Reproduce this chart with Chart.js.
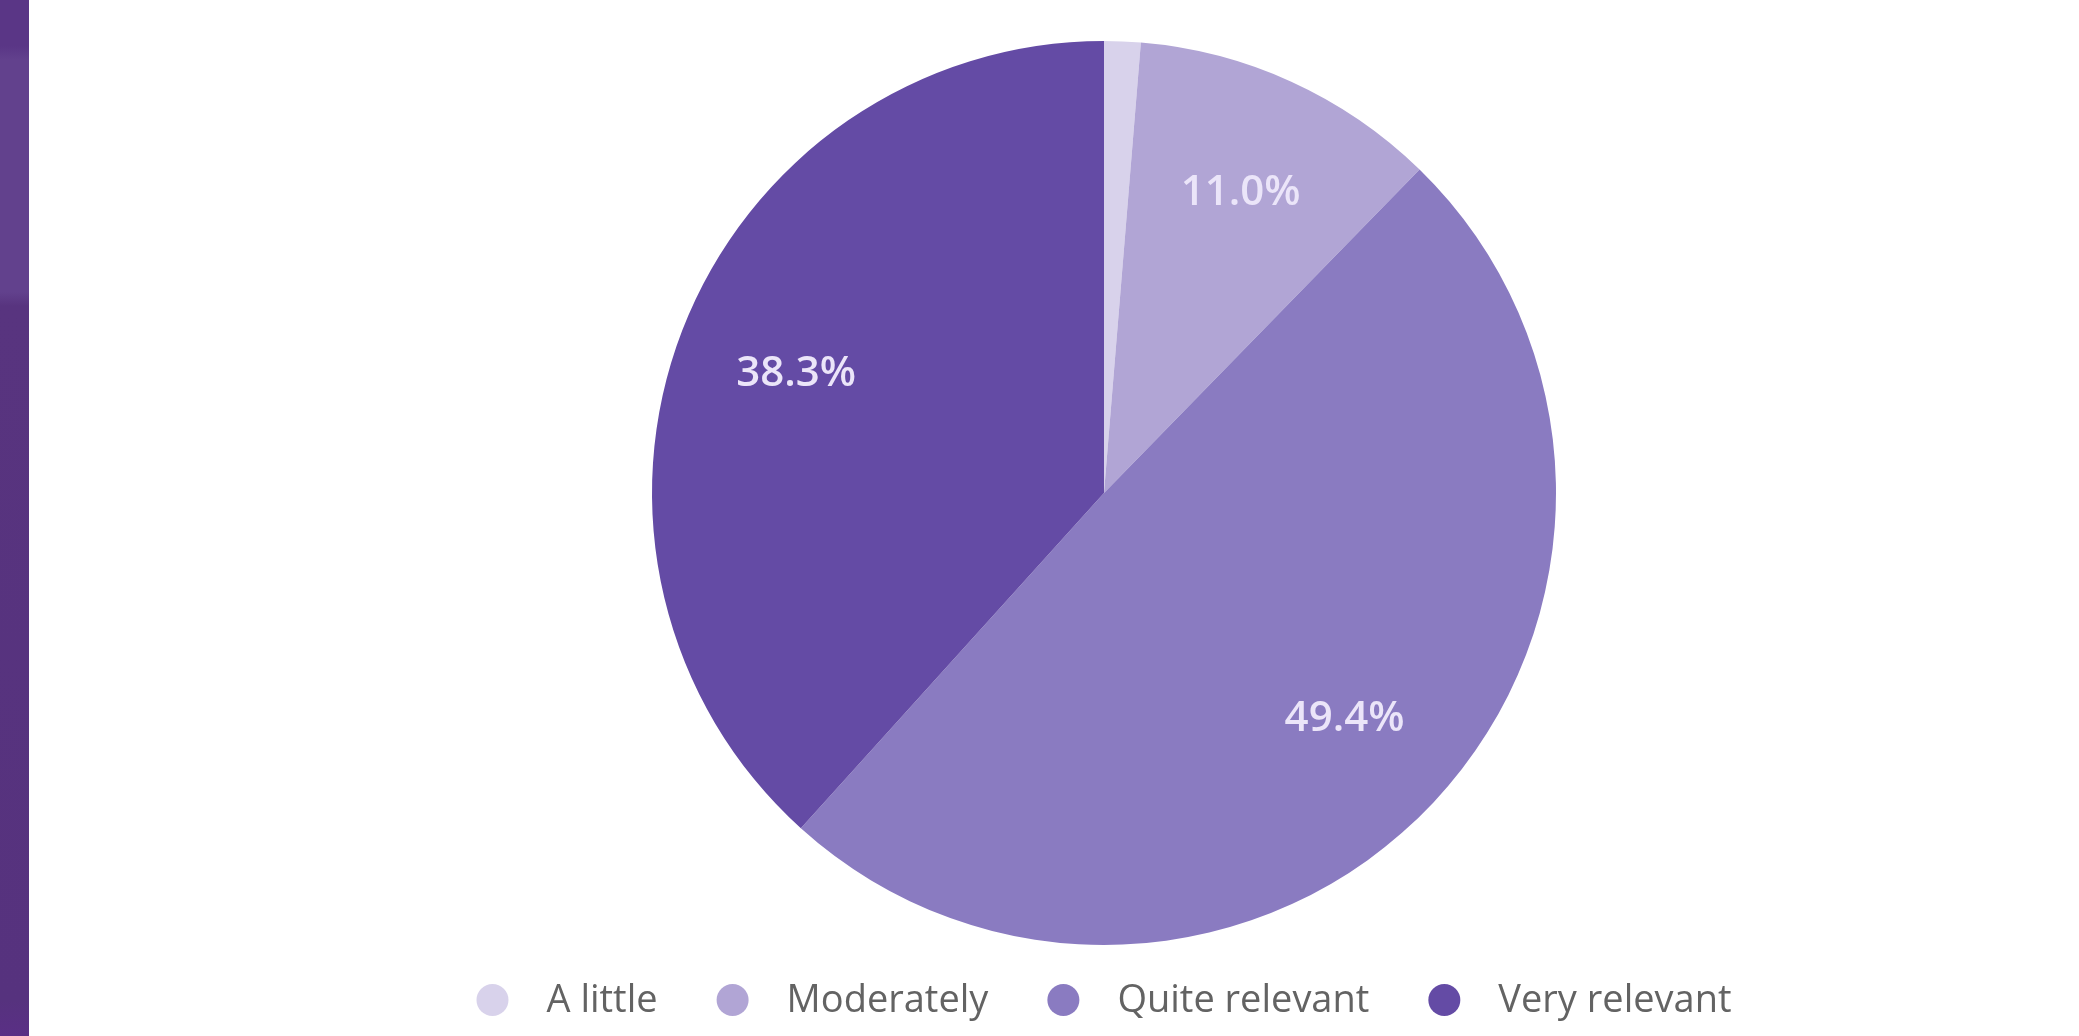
<!DOCTYPE html>
<html>
<head>
<meta charset="utf-8">
<title>Relevance</title>
<script src="https://cdn.jsdelivr.net/npm/chart.js@4/dist/chart.umd.min.js"></script>
<style>
	html, body { margin:0; padding:0; background:#fff; overflow:hidden; }
	#side_bar {
		position:absolute; left:0; top:0; width:29px; height:1036px;
		background: linear-gradient(180deg, #5a3686 0px, #5a3686 46px, #62418d 60px, #62418d 292px, #58347f 306px, #56327e 1000px, #5a2f85 1036px);
	}
	#chart_box { position:absolute; left:0; top:0; width:2079px; height:1036px; }
</style>
</head>
<body>
<div id="side_bar"></div>
<div id="chart_box"><canvas id="relevance_chart" width="2079" height="1036"></canvas></div>
<script>
let categories = ['A little', 'Moderately', 'Quite relevant', 'Very relevant'];
let shares = [1.3, 11.0, 49.4, 38.3];
let slice_colors = ['#d8d2eb', '#b1a5d5', '#8a7bc1', '#644ba5'];
let label_min = 5;

// percentages inside the slices
let slice_labels = {
	id: 'slice_labels',
	afterDatasetsDraw: function(chart){
		let ctx = chart.ctx;
		let meta = chart.getDatasetMeta(0);
		ctx.save();
		ctx.font = '600 42px "Open Sans"';
		ctx.fillStyle = '#ebe5f9';
		ctx.textAlign = 'center';
		ctx.textBaseline = 'middle';
		meta.data.forEach((arc, i)=>{
			let v = chart.data.datasets[0].data[i];
			if (v < label_min) return;
			let p = arc.getProps(['x', 'y', 'startAngle', 'endAngle', 'outerRadius']);
			let mid = (p.startAngle + p.endAngle) / 2;
			let d = p.outerRadius * 0.73;
			ctx.fillText(v.toFixed(1) + '%', p.x + Math.cos(mid) * d, p.y + Math.sin(mid) * d);
		})
		ctx.restore();
	}
}

// legend row under the pie
let legend_row = {
	id: 'legend_row',
	afterDraw: function(chart){
		let ctx = chart.ctx;
		let y = 1000;
		let dot_r = 16;
		let dot_to_text = 54;
		let text_to_dot = 75;
		ctx.save();
		ctx.font = '38px "Open Sans"';
		ctx.textBaseline = 'middle';
		ctx.textAlign = 'left';
		let labels = chart.data.labels;
		let widths = labels.map((l)=>ctx.measureText(l).width);
		let total = dot_r;
		widths.forEach((w, i)=>{
			total += dot_to_text + w;
			if (i < widths.length - 1) total += text_to_dot;
		})
		let cx = (chart.chartArea.left + chart.chartArea.right) / 2;
		let x = cx - total / 2 + dot_r;
		labels.forEach((l, i)=>{
			ctx.fillStyle = chart.data.datasets[0].backgroundColor[i];
			ctx.beginPath();
			ctx.arc(x, y, dot_r, 0, Math.PI * 2);
			ctx.fill();
			ctx.fillStyle = '#636363';
			ctx.fillText(l, x + dot_to_text, y + 1);
			x += dot_to_text + widths[i] + text_to_dot;
		})
		ctx.restore();
	}
}

window.onload = () => {
	new Chart('relevance_chart', {
		type: 'pie',
		data: {
			labels: categories,
			datasets: [{
				data: shares,
				backgroundColor: slice_colors,
				borderWidth: 0
			}]
		},
		options: {
			responsive: false,
			animation: false,
			layout: { padding: { top: 41, bottom: 91, left: 129, right: 0 } },
			plugins: {
				legend: { display: false },
				tooltip: { enabled: false }
			}
		},
		plugins: [slice_labels, legend_row]
	})
}
</script>
</body>
</html>
